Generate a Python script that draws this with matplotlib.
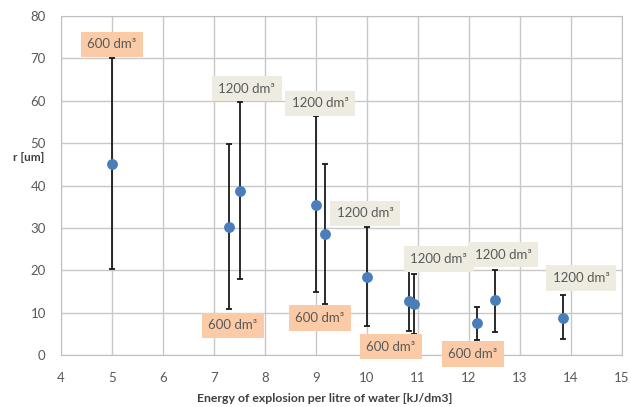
import matplotlib
matplotlib.use("Agg")
import matplotlib.pyplot as plt

# data
energy = [5.0, 7.30, 7.50, 9.0, 9.17, 10.0, 10.82, 10.93, 12.16, 12.51, 13.84]
r_mean = [45.2, 30.3, 38.8, 35.4, 28.5, 18.5, 12.8, 12.0, 7.5, 13.0, 8.9]
r_top = [70.1, 49.9, 59.8, 56.3, 45.0, 30.2, 19.8, 19.2, 11.4, 20.2, 14.2]
r_bottom = [20.4, 10.8, 17.9, 14.9, 12.2, 6.8, 5.8, 5.0, 3.7, 5.5, 3.8]

label_text = ["600 dm³", "1200 dm³", "1200 dm³", "600 dm³", "600 dm³",
              "1200 dm³", "1200 dm³", "600 dm³", "1200 dm³", "600 dm³", "1200 dm³"]
label_x = [5.0, 7.64, 9.08, 7.37, 9.08, 9.96, 11.41, 10.47, 12.67, 12.08, 14.2]
label_y = [73.3, 62.8, 59.4, 7.1, 8.8, 33.5, 22.7, 2.0, 23.7, 0.3, 18.2]

xticks = list(range(4, 16))
yticks = list(range(0, 90, 10))

plt.rcParams['font.family'] = ['Lato', 'DejaVu Sans']
txt = '#595959'

fig = plt.figure(figsize=(6.31, 4.07), dpi=100)
ax = fig.add_axes([0.0967, 0.127, 0.889, 0.834])

lo = [m - b for m, b in zip(r_mean, r_bottom)]
hi = [t - m for m, t in zip(r_mean, r_top)]
ax.errorbar(energy, r_mean, yerr=[lo, hi], fmt='o', color='#4A7EBB',
            markersize=6.8, ecolor='#1a1a1a', elinewidth=1.3, capsize=2,
            capthick=1.3, zorder=3)

for t, x, y in zip(label_text, label_x, label_y):
    fc = '#FBCBA7' if t.startswith('600') else '#EEECE1'
    ax.text(x, y, t, ha='center', va='center', fontsize=9.5, color=txt,
            bbox=dict(boxstyle='square,pad=0.5', fc=fc, ec='none'), zorder=4)

ax.set_xlim(4, 15)
ax.set_ylim(0, 80)
ax.set_xticks(xticks)
ax.set_yticks(yticks)
ax.grid(True, color='#C8C8C8', linewidth=1.0)
ax.set_axisbelow(True)
for s in ax.spines.values():
    s.set_color('#C0C0C0')
ax.tick_params(length=0, labelsize=9.5, colors=txt)
ax.tick_params(axis='y', pad=11)
ax.tick_params(axis='x', pad=12)

fig.text(0.045, 0.612, 'r [um]', fontsize=8.5, fontweight='bold', color='#404040',
         ha='center', va='center')
fig.text(0.515, 0.008, 'Energy of explosion per litre of water [kJ/dm3]',
         fontsize=8.8, fontweight='bold', color='#404040', ha='center', va='bottom')

fig.savefig('out.png', dpi=100)
